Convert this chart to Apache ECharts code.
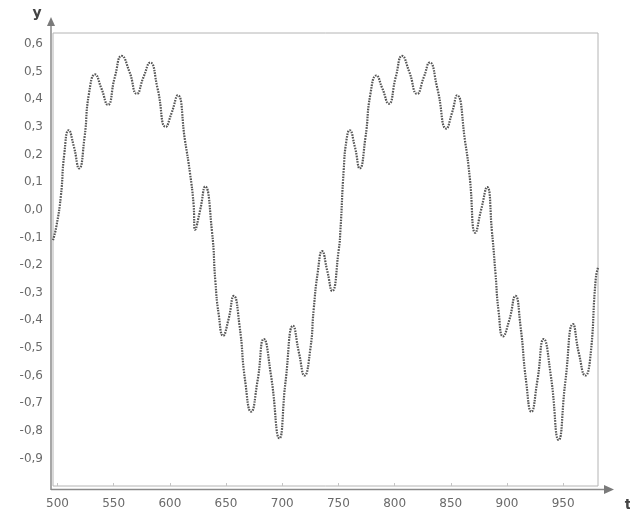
<!DOCTYPE html>
<html>
<head>
<meta charset="utf-8">
<script src="https://cdn.jsdelivr.net/npm/echarts@6/dist/echarts.min.js"></script>
<style>
html,body{margin:0;padding:0;background:#fff;}
#chart{width:630px;height:517px;}
</style>
</head>
<body>
<div id="chart"></div>
<script>
// x positions (t)
const tValues = [496,499,503,506,510,514.5,519.3,524,528,533.5,539,544.8,551,557.2,564,570.6,576.5,582.5,589,596.4,601.5,607,613.5,618,621,622.5,627,631.4,637.5,640.5,643.5,647.4,652,656.9,662,667,672.3,678,683.6,690,697.5,703,709.7,715,719.8,725,728,731.6,735.5,740,744.4,750.3,751.8,754.7,757.1,760,764.5,769,774,778.5,783.8,789,794.8,801,806.7,813,820,826,831.2,838,846.1,851,855.6,863,866.8,871.9,877,882.3,886.7,889.7,892.6,896.5,902,907.5,912,917,921.7,927,932.7,939,946,952,958.8,964,969.8,974,979,981];
// y values
const yValues = [-0.11,-0.06,0.05,0.2,0.288,0.23,0.15,0.26,0.42,0.49,0.44,0.38,0.48,0.557,0.5,0.42,0.48,0.533,0.44,0.30,0.35,0.414,0.25,0.13,0.025,-0.072,0.0,0.084,-0.08,-0.26,-0.38,-0.456,-0.4,-0.312,-0.42,-0.62,-0.731,-0.62,-0.468,-0.6,-0.827,-0.62,-0.42,-0.52,-0.6,-0.504,-0.36,-0.227,-0.15,-0.22,-0.294,-0.144,-0.072,0.144,0.25,0.288,0.23,0.15,0.26,0.42,0.486,0.44,0.384,0.48,0.557,0.5,0.42,0.48,0.533,0.44,0.294,0.35,0.414,0.24,0.12,-0.083,0.0,0.082,-0.083,-0.227,-0.37,-0.458,-0.4,-0.312,-0.42,-0.62,-0.731,-0.62,-0.468,-0.6,-0.833,-0.62,-0.414,-0.52,-0.6,-0.54,-0.25,-0.21];
// tick labels
const xTicks = [500,550,600,650,700,750,800,850,900,950];
const yTicks = [-0.9,-0.8,-0.7,-0.6,-0.5,-0.4,-0.3,-0.2,-0.1,0,0.1,0.2,0.3,0.4,0.5,0.6];
const xName = 't';
const yName = 'y';

const seriesData = tValues.map((t, i) => [t, yValues[i]]);
const fmt = v => (Math.round(v * 10) / 10).toFixed(1).replace('.', ',').replace('-0,0', '0,0');

const chart = echarts.init(document.getElementById('chart'), null, {renderer: 'canvas'});
const labelFont = {color: '#6a6a6a', fontFamily: 'DejaVu Sans', fontSize: 12};
chart.setOption({
  animation: false,
  backgroundColor: '#fff',
  grid: {left: 53, right: 32, top: 33, bottom: 31, show: true, borderColor: '#b4b4b4', borderWidth: 1, backgroundColor: '#fff'},
  xAxis: {
    type: 'value', min: 496, max: 981,
    axisLine: {show: false, onZero: false},
    splitLine: {show: false},
    axisTick: {show: true, inside: true, length: 3, lineStyle: {color: '#c4c4c4'}, customValues: xTicks},
    axisLabel: Object.assign({customValues: xTicks, margin: 12, formatter: v => String(v)}, labelFont)
  },
  yAxis: {
    type: 'value', min: -1.0, max: 0.64,
    axisLine: {show: false, onZero: false},
    splitLine: {show: false},
    axisTick: {show: false, customValues: yTicks},
    axisLabel: Object.assign({customValues: yTicks, margin: 10, formatter: fmt}, labelFont)
  },
  series: [{
    type: 'line',
    data: seriesData,
    smooth: 0.55,
    showSymbol: false,
    lineStyle: {color: '#555555', width: 2.2, type: [1.6, 1.1]}
  }],
  graphic: [
    {type: 'line', shape: {x1: 51, y1: 490, x2: 51, y2: 24}, style: {stroke: '#8a8a8a', lineWidth: 1.5}},
    {type: 'polygon', shape: {points: [[47, 26], [55, 26], [51, 17]]}, style: {fill: '#7a7a7a'}},
    {type: 'line', shape: {x1: 51, y1: 489.5, x2: 606, y2: 489.5}, style: {stroke: '#8a8a8a', lineWidth: 1.5}},
    {type: 'polygon', shape: {points: [[604, 485], [604, 494], [614, 489.5]]}, style: {fill: '#7a7a7a'}},
    {type: 'text', style: {text: yName, x: 37, y: 13, fill: '#444', font: 'bold 14px DejaVu Sans', textAlign: 'center', textVerticalAlign: 'middle'}},
    {type: 'text', style: {text: xName, x: 628, y: 505, fill: '#444', font: 'bold 14px DejaVu Sans', textAlign: 'center', textVerticalAlign: 'middle'}}
  ]
});
</script>
</body>
</html>
